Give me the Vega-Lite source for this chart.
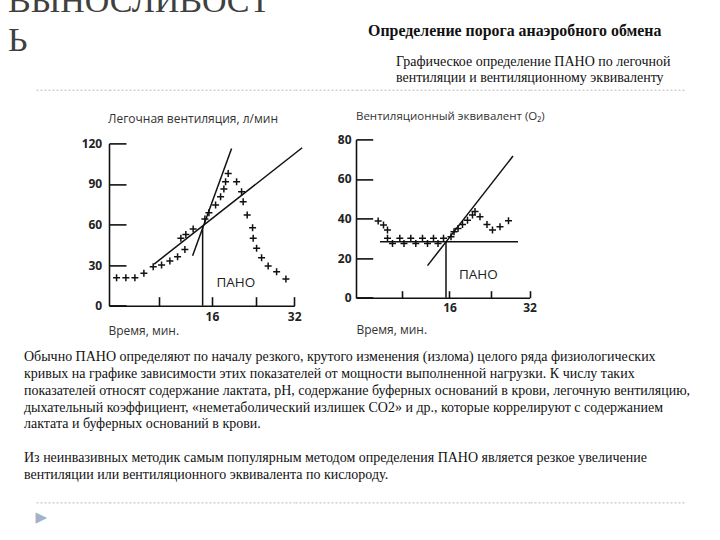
{
  "$schema": "https://vega.github.io/schema/vega-lite/v6.json",
  "background": "white",
  "padding": {"left": 8, "top": -15.3, "right": 0, "bottom": 0},
  "config": {"view": {"stroke": null}},
  "datasets": {
    "vent_points": [
      {"x": -2.53, "y": 20.7}, {"x": -0.72, "y": 20.7}, {"x": 1.03, "y": 20.7}, {"x": 2.78, "y": 23.9},
      {"x": 4.59, "y": 28.8}, {"x": 6.22, "y": 30.1}, {"x": 7.83, "y": 33.0}, {"x": 9.33, "y": 36.2},
      {"x": 10.75, "y": 41.6}, {"x": 9.97, "y": 49.8}, {"x": 10.94, "y": 52.7}, {"x": 12.36, "y": 56.7},
      {"x": 14.64, "y": 64.1}, {"x": 15.42, "y": 68.8}, {"x": 16.72, "y": 74.5}, {"x": 17.69, "y": 80.6},
      {"x": 18.33, "y": 86.3}, {"x": 18.66, "y": 91.7}, {"x": 19.17, "y": 97.8}, {"x": 20.8, "y": 91.7},
      {"x": 21.77, "y": 84.3}, {"x": 22.08, "y": 76.9}, {"x": 22.86, "y": 67.1}, {"x": 23.91, "y": 57.7},
      {"x": 24.03, "y": 49.8}, {"x": 24.69, "y": 42.4}, {"x": 25.66, "y": 35.5}, {"x": 26.94, "y": 29.4},
      {"x": 28.58, "y": 25.1}, {"x": 30.39, "y": 19.7}
    ],
    "vent_lines": [
      {"x": 12.25, "y": 37.0, "x2": 19.83, "y2": 116.3},
      {"x": 4.78, "y": 30.8, "x2": 33.55, "y2": 116.8},
      {"x": 14.2, "y": 0, "x2": 14.2, "y2": 58.4}
    ],
    "vent_label": [{"x": 16.9, "y": 16.5, "label": "ПАНО"}],
    "eq_points": [
      {"x": 1.73, "y": 38.8}, {"x": 2.8, "y": 36.7}, {"x": 3.6, "y": 34.2}, {"x": 3.6, "y": 30.0},
      {"x": 4.6, "y": 27.4}, {"x": 6.06, "y": 30.0}, {"x": 6.9, "y": 27.4}, {"x": 8.26, "y": 30.0},
      {"x": 9.26, "y": 27.4}, {"x": 10.6, "y": 30.0}, {"x": 11.6, "y": 27.4}, {"x": 12.8, "y": 30.0},
      {"x": 13.7, "y": 27.4}, {"x": 14.8, "y": 30.0}, {"x": 16.3, "y": 30.8}, {"x": 16.9, "y": 33.3},
      {"x": 17.7, "y": 35.0}, {"x": 18.6, "y": 37.0}, {"x": 19.6, "y": 39.2}, {"x": 20.6, "y": 41.8},
      {"x": 21.1, "y": 43.5}, {"x": 22.1, "y": 40.9}, {"x": 23.5, "y": 37.0}, {"x": 24.6, "y": 34.2},
      {"x": 26.1, "y": 35.9}, {"x": 27.8, "y": 38.9}
    ],
    "eq_lines": [
      {"x": 2.1, "y": 28.3, "x2": 29.7, "y2": 28.3},
      {"x": 11.6, "y": 16.2, "x2": 28.7, "y2": 71.6},
      {"x": 15.3, "y": 0, "x2": 15.3, "y2": 28.3}
    ],
    "eq_label": [{"x": 17.9, "y": 11.5, "label": "ПАНО"}],
    "empty": []
  },
  "bounds": "flush",
  "columns": 5,
  "spacing": {"row": 48.7, "column": 0},
  "align": "each",
  "concat": [
    {
      "width": 73, "height": 0.01, "data": {"name": "empty"}, "mark": "point",
      "title": {"text": ["ВЫНОСЛИВОСТ", "Ь"], "anchor": "start", "frame": "group", "dx": -28, "offset": 31.3,
        "font": "Liberation Serif", "fontSize": 34, "fontWeight": "normal", "lineHeight": 39, "color": "#404040"},
      "encoding": {"x": {"field": "v", "type": "quantitative", "scale": {"domain": [0, 1]},
        "axis": {"domainDash": [2, 2], "domainColor": "#b8b8b8", "domainWidth": 1, "ticks": false, "labels": false, "grid": false, "title": null}}}
    },
    {
      "width": 185.2, "height": 0.01, "data": {"name": "empty"}, "mark": "point",
      "encoding": {"x": {"field": "v", "type": "quantitative", "scale": {"domain": [0, 1]},
        "axis": {"domainDash": [2, 2], "domainColor": "#b8b8b8", "domainWidth": 1, "ticks": false, "labels": false, "grid": false, "title": null}}}
    },
    {
      "width": 60.8, "height": 0.01, "data": {"name": "empty"}, "mark": "point",
      "title": {"text": "Определение порога анаэробного обмена", "anchor": "start", "frame": "group", "dx": 73.1, "offset": 51,
        "font": "Liberation Serif", "fontSize": 15.9, "fontWeight": "bold", "color": "#111111"},
      "encoding": {"x": {"field": "v", "type": "quantitative", "scale": {"domain": [0, 1]},
        "axis": {"domainDash": [2, 2], "domainColor": "#b8b8b8", "domainWidth": 1, "ticks": false, "labels": false, "grid": false, "title": null}}}
    },
    {
      "width": 173.5, "height": 0.01, "data": {"name": "empty"}, "mark": "point",
      "title": {"text": ["Графическое определение ПАНО по легочной", "вентиляции и вентиляционному эквиваленту"],
        "anchor": "start", "frame": "group", "dx": 40, "offset": 4.5,
        "font": "Liberation Serif", "fontSize": 14, "fontWeight": "normal", "lineHeight": 16, "color": "#111111"},
      "encoding": {"x": {"field": "v", "type": "quantitative", "scale": {"domain": [0, 1]},
        "axis": {"domainDash": [2, 2], "domainColor": "#b8b8b8", "domainWidth": 1, "ticks": false, "labels": false, "grid": false, "title": null}}}
    },
    {
      "width": 154.5, "height": 0.01, "data": {"name": "empty"}, "mark": "point",
      "encoding": {"x": {"field": "v", "type": "quantitative", "scale": {"domain": [0, 1]},
        "axis": {"domainDash": [2, 2], "domainColor": "#b8b8b8", "domainWidth": 1, "ticks": false, "labels": false, "grid": false, "title": null}}}
    },
    {"width": 73, "height": 0.01, "data": {"name": "empty"}, "mark": "point"},
    {
      "width": 185.2, "height": 166.3,
      "title": {"text": "Легочная вентиляция, л/мин", "anchor": "start", "frame": "group", "dx": -1, "offset": 11.7,
        "font": "Open Sans", "fontSize": 12, "fontWeight": "normal", "color": "#333333"},
      "encoding": {
        "x": {"field": "x", "type": "quantitative", "scale": {"domain": [-4, 32], "nice": false, "zero": false},
          "axis": {"values": [5.76, 16, 24.56, 32], "format": "d",
            "labelExpr": "(datum.value == 16 || datum.value == 32) ? datum.label : ''",
            "labelFlush": false, "labelOverlap": false, "grid": false,
            "domainColor": "#111111", "domainWidth": 1.6, "tickColor": "#111111", "tickWidth": 1.6,
            "tickSize": -9, "labelPadding": 15.3, "labelFont": "Open Sans", "labelFontSize": 12,
            "labelFontWeight": "bold", "labelColor": "#222222",
            "title": "Время, мин.", "titleFont": "Open Sans", "titleFontSize": 12, "titleFontWeight": "normal",
            "titleColor": "#333333", "titleAlign": "left", "titleBaseline": "alphabetic", "titleX": -1, "titleY": 29.3}},
        "y": {"field": "y", "type": "quantitative", "scale": {"domain": [0, 122.96], "nice": false},
          "axis": {"values": [0, 30, 60, 90, 120], "grid": false,
            "domainColor": "#111111", "domainWidth": 1.6, "domainDash": [162.3, 60],
            "tickColor": "#111111", "tickWidth": 1.6,
            "tickSize": -17, "labelPadding": 24.3, "labelFont": "Open Sans", "labelFontSize": 12,
            "labelFontWeight": "bold", "labelColor": "#222222", "title": null}}
      },
      "layer": [
        {"data": {"name": "vent_lines"}, "mark": {"type": "rule", "color": "#111111", "strokeWidth": 1.5},
          "encoding": {"x2": {"field": "x2"}, "y2": {"field": "y2"}}},
        {"data": {"name": "vent_points"},
          "mark": {"type": "point", "shape": "M-1,0L1,0M0,-1L0,1", "size": 49, "filled": false, "color": "#111111", "strokeWidth": 1.5, "opacity": 1}},
        {"data": {"name": "vent_label"},
          "mark": {"type": "text", "align": "left", "baseline": "middle", "font": "Open Sans", "fontSize": 13.5, "color": "#222222"},
          "encoding": {"text": {"field": "label"}}}
      ]
    },
    {"width": 60.8, "height": 0.01, "data": {"name": "empty"}, "mark": "point"},
    {
      "width": 173.5, "height": 158.3,
      "title": {"text": "Вентиляционный эквивалент (O₂)", "anchor": "start", "frame": "group", "dx": 0, "offset": 10.4,
        "font": "Open Sans", "fontSize": 11.5, "fontWeight": "normal", "color": "#333333"},
      "encoding": {
        "x": {"field": "x", "type": "quantitative", "scale": {"domain": [-2.7, 32], "nice": false, "zero": false},
          "axis": {"values": [6.52, 16, 24.4, 32], "format": "d",
            "labelExpr": "(datum.value == 16 || datum.value == 32) ? datum.label : ''",
            "labelFlush": false, "labelOverlap": false, "grid": false,
            "domainColor": "#111111", "domainWidth": 1.6, "tickColor": "#111111", "tickWidth": 1.6,
            "tickSize": -7, "labelPadding": 12.3, "labelFont": "Open Sans", "labelFontSize": 12,
            "labelFontWeight": "bold", "labelColor": "#222222",
            "title": "Время, мин.", "titleFont": "Open Sans", "titleFontSize": 12, "titleFontWeight": "normal",
            "titleColor": "#333333", "titleAlign": "left", "titleBaseline": "alphabetic", "titleX": 0, "titleY": 35.5}},
        "y": {"field": "y", "type": "quantitative", "scale": {"domain": [0, 80], "nice": false},
          "axis": {"values": [0, 20, 40, 60, 80], "grid": false,
            "domainColor": "#111111", "domainWidth": 1.6, "tickColor": "#111111", "tickWidth": 1.6,
            "tickSize": -16.7, "labelPadding": 21.7, "labelFont": "Open Sans", "labelFontSize": 12,
            "labelFontWeight": "bold", "labelColor": "#222222", "title": null}}
      },
      "layer": [
        {"data": {"name": "eq_lines"}, "mark": {"type": "rule", "color": "#111111", "strokeWidth": 1.5},
          "encoding": {"x2": {"field": "x2"}, "y2": {"field": "y2"}}},
        {"data": {"name": "eq_points"},
          "mark": {"type": "point", "shape": "M-1,0L1,0M0,-1L0,1", "size": 49, "filled": false, "color": "#111111", "strokeWidth": 1.5, "opacity": 1}},
        {"data": {"name": "eq_label"},
          "mark": {"type": "text", "align": "left", "baseline": "middle", "font": "Open Sans", "fontSize": 13.5, "color": "#222222"},
          "encoding": {"text": {"field": "label"}}}
      ]
    },
    {"width": 154.5, "height": 0.01, "data": {"name": "empty"}, "mark": "point"},
    {
      "width": 73, "height": 147.3, "data": {"name": "empty"}, "mark": "point",
      "title": {
        "text": [
          "Обычно ПАНО определяют по началу резкого, крутого изменения (излома) целого ряда физиологических",
          "кривых на графике зависимости этих показателей от мощности выполненной нагрузки. К числу таких",
          "показателей относят содержание лактата, pH, содержание буферных оснований в крови, легочную вентиляцию,",
          "дыхательный коэффициент, «неметаболический излишек CO2» и др., которые коррелируют с содержанием",
          "лактата и буферных оснований в крови."
        ],
        "anchor": "start", "frame": "group", "dx": -12, "offset": -76.3,
        "font": "Liberation Serif", "fontSize": 14, "fontWeight": "normal", "lineHeight": 16.8, "color": "#111111"
      },
      "encoding": {"x": {"field": "v", "type": "quantitative", "scale": {"domain": [0, 1]},
        "axis": {"domainDash": [2, 2], "domainColor": "#b8b8b8", "domainWidth": 1, "ticks": false, "labels": false, "grid": false,
          "title": "▶", "titleFont": "DejaVu Sans", "titleFontSize": 15, "titleFontWeight": "normal",
          "titleColor": "#a3b3c6", "titleAlign": "left", "titleBaseline": "middle", "titleX": -1, "titleY": 14.5}}}
    },
    {
      "width": 185.2, "height": 147.3, "data": {"name": "empty"}, "mark": "point",
      "title": {
        "text": [
          "Из неинвазивных методик самым популярным методом определения ПАНО является резкое увеличение",
          "вентиляции или вентиляционного эквивалента по кислороду."
        ],
        "anchor": "start", "frame": "group", "dx": -85, "offset": -126.9,
        "font": "Liberation Serif", "fontSize": 14, "fontWeight": "normal", "lineHeight": 16.8, "color": "#111111"
      },
      "encoding": {"x": {"field": "v", "type": "quantitative", "scale": {"domain": [0, 1]},
        "axis": {"domainDash": [2, 2], "domainColor": "#b8b8b8", "domainWidth": 1, "ticks": false, "labels": false, "grid": false, "title": null}}}
    },
    {
      "width": 60.8, "height": 147.3, "data": {"name": "empty"}, "mark": "point",
      "encoding": {"x": {"field": "v", "type": "quantitative", "scale": {"domain": [0, 1]},
        "axis": {"domainDash": [2, 2], "domainColor": "#b8b8b8", "domainWidth": 1, "ticks": false, "labels": false, "grid": false, "title": null}}}
    },
    {
      "width": 173.5, "height": 147.3, "data": {"name": "empty"}, "mark": "point",
      "encoding": {"x": {"field": "v", "type": "quantitative", "scale": {"domain": [0, 1]},
        "axis": {"domainDash": [2, 2], "domainColor": "#b8b8b8", "domainWidth": 1, "ticks": false, "labels": false, "grid": false, "title": null}}}
    },
    {
      "width": 154.5, "height": 147.3, "data": {"name": "empty"}, "mark": "point",
      "encoding": {"x": {"field": "v", "type": "quantitative", "scale": {"domain": [0, 1]},
        "axis": {"domainDash": [2, 2], "domainColor": "#b8b8b8", "domainWidth": 1, "ticks": false, "labels": false, "grid": false, "title": null}}}
    }
  ]
}
